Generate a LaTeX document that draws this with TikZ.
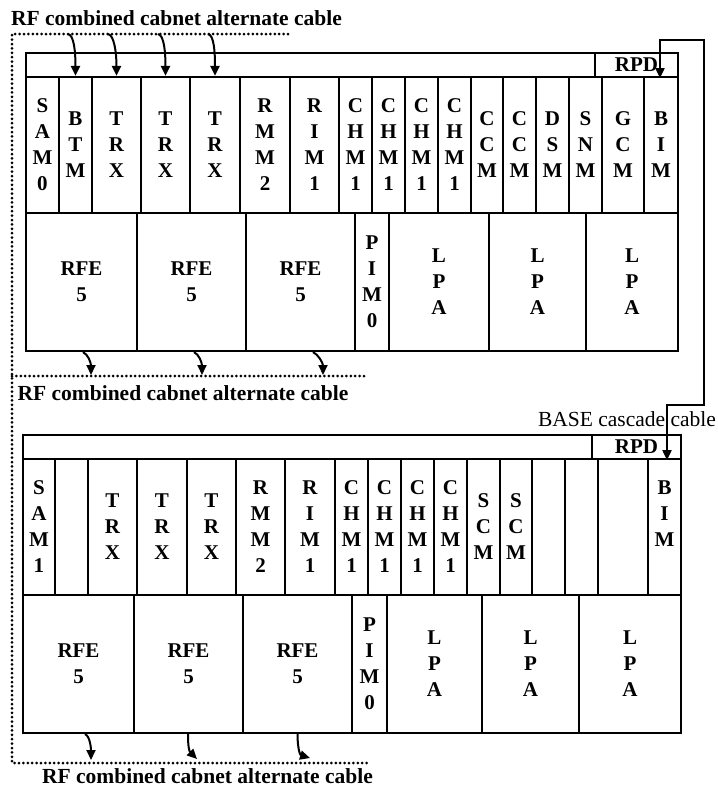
\documentclass[tikz,border=0pt]{standalone}
\usepackage{fontspec}
\setmainfont{Liberation Serif}
\usetikzlibrary{arrows.meta}
\begin{document}
\begin{tikzpicture}[x=1pt,y=-1pt,
  slot/.style={draw,line width=2.2pt,inner sep=0pt,align=center,
    font=\fontsize{21}{26}\selectfont\bfseries},
  captxt/.style={font=\fontsize{21.5}{26}\selectfont\bfseries,inner sep=0pt,anchor=base},
  dots/.style={line width=3pt,dash pattern=on 0pt off 4.4pt,line cap=round},
  arr/.style={line width=2pt,-{Triangle[length=10pt,width=9pt]}},
  casc/.style={line width=2pt,{Triangle[length=10pt,width=9pt]}-{Triangle[length=10pt,width=9pt]}},
]
\useasboundingbox (0,0) rectangle (718,788);

% ---------- top cabinet ----------
\node[slot,minimum width=652,minimum height=24] (hdrA) at (352,65) {};
\node[slot,minimum width=83,minimum height=24] (rpdA) at (636.5,65) {RPD};
\foreach \a/\b/\t [count=\i] in {26/59/S\\A\\M\\0, 59/92/B\\T\\M, 92/141/T\\R\\X,
  141/190/T\\R\\X, 190/240/T\\R\\X, 240/290/R\\M\\M\\2, 290/339/R\\I\\M\\1,
  339/372/C\\H\\M\\1, 372/405/C\\H\\M\\1, 405/438/C\\H\\M\\1, 438/471/C\\H\\M\\1,
  471/503/C\\C\\M, 503/536/C\\C\\M, 536/569/D\\S\\M, 569/602/S\\N\\M,
  602/644/G\\C\\M, 644/678/B\\I\\M}
  \node[slot,minimum width={\b-\a},minimum height=136] (sa\i) at ({(\a+\b)/2},145) {\t};
\foreach \a/\b/\t [count=\i] in {26/137/RFE\\5, 137/246/RFE\\5, 246/355/RFE\\5,
  355/389/P\\I\\M\\0, 389/489/L\\P\\A, 489/586/L\\P\\A, 586/678/L\\P\\A}
  \node[slot,minimum width={\b-\a},minimum height=138] (ra\i) at ({(\a+\b)/2},282) {\t};

% ---------- bottom cabinet ----------
\node[slot,minimum width=658,minimum height=24] (hdrB) at (352,447) {};
\node[slot,minimum width=89,minimum height=24] (rpdB) at (636.5,447) {RPD};
\foreach \a/\b/\t [count=\i] in {23/55/S\\A\\M\\1, 55/88/, 88/137/T\\R\\X,
  137/187/T\\R\\X, 187/236/T\\R\\X, 236/285/R\\M\\M\\2, 285/335/R\\I\\M\\1,
  335/368/C\\H\\M\\1, 368/401/C\\H\\M\\1, 401/434/C\\H\\M\\1, 434/467/C\\H\\M\\1,
  467/500/S\\C\\M, 500/532/S\\C\\M, 532/565/, 565/598/, 598/648/,
  648/681/B\\I\\M\\\phantom{1}}
  \node[slot,minimum width={\b-\a},minimum height=136] (sb\i) at ({(\a+\b)/2},527) {\t};
\foreach \a/\b/\t [count=\i] in {23/134/RFE\\5, 134/243/RFE\\5, 243/352/RFE\\5,
  352/387/P\\I\\M\\0, 387/482/L\\P\\A, 482/579/L\\P\\A, 579/681/L\\P\\A}
  \node[slot,minimum width={\b-\a},minimum height=138] (rb\i) at ({(\a+\b)/2},664) {\t};

% ---------- dotted cable routes ----------
\draw[dots] (288,34) -- (12,34) -- (12,763) -- (367,763);
\draw[dots] (12,376) -- (367,376);

% ---------- labels ----------
\node[captxt] (t1) at (176.5,25.5) {RF combined cabnet alternate cable};
\node[captxt] (t2) at (183,400) {RF combined cabnet alternate cable};
\node[captxt] (t3) at (207.5,783.5) {RF combined cabnet alternate cable};
\node[font=\fontsize{21.5}{26}\selectfont,inner sep=0pt,anchor=base] (t4) at (627,426) {BASE cascade cable};

% ---------- top arrows ----------
\coordinate (u1) at (68,34);
\coordinate (u2) at (108,34);
\coordinate (u3) at (158,34);
\coordinate (u4) at (208,34);
\draw[arr] (u1) .. controls +(6,1) and +(0,-24) .. (sa2.north);
\draw[arr] (u2) .. controls +(6,1) and +(0,-24) .. (sa3.north);
\draw[arr] (u3) .. controls +(6,1) and +(0,-24) .. (sa4.north);
\draw[arr] (u4) .. controls +(6,1) and +(0,-24) .. (sa5.north);

% ---------- middle arrows ----------
\coordinate (m1) at (91,375);
\coordinate (m2) at (202,375);
\coordinate (m3) at (323,375);
\draw[arr] ([xshift=1.5pt]ra1.south) .. controls +(5,2) and +(0,-12) .. (m1);
\draw[arr] ([xshift=2.5pt]ra2.south) .. controls +(5,2) and +(0,-12) .. (m2);
\draw[arr] ([xshift=12.5pt]ra3.south) .. controls +(5,2) and +(0,-12) .. (m3);

% ---------- bottom arrows ----------
\coordinate (b1) at (91,760);
\coordinate (b2) at (197,759);
\coordinate (b3) at (310,758);
\draw[arr] ([xshift=6.5pt]rb1.south) .. controls +(5,2) and +(0,-12) .. (b1);
\draw[arr] ([xshift=-0.5pt]rb2.south) .. controls +(0,12) and +(-8,-8) .. (b2);
\draw[arr] (rb3.south) .. controls +(0,14) and +(-10,-3) .. (b3);

% ---------- BASE cascade cable ----------
\coordinate (k1) at (704,40);
\coordinate (k2) at (704,405);
\draw[casc] ([xshift=23.5pt]rpdA.south) |- (k1) -- (k2) -| ([xshift=30.5pt]rpdB.south);
\end{tikzpicture}
\end{document}
